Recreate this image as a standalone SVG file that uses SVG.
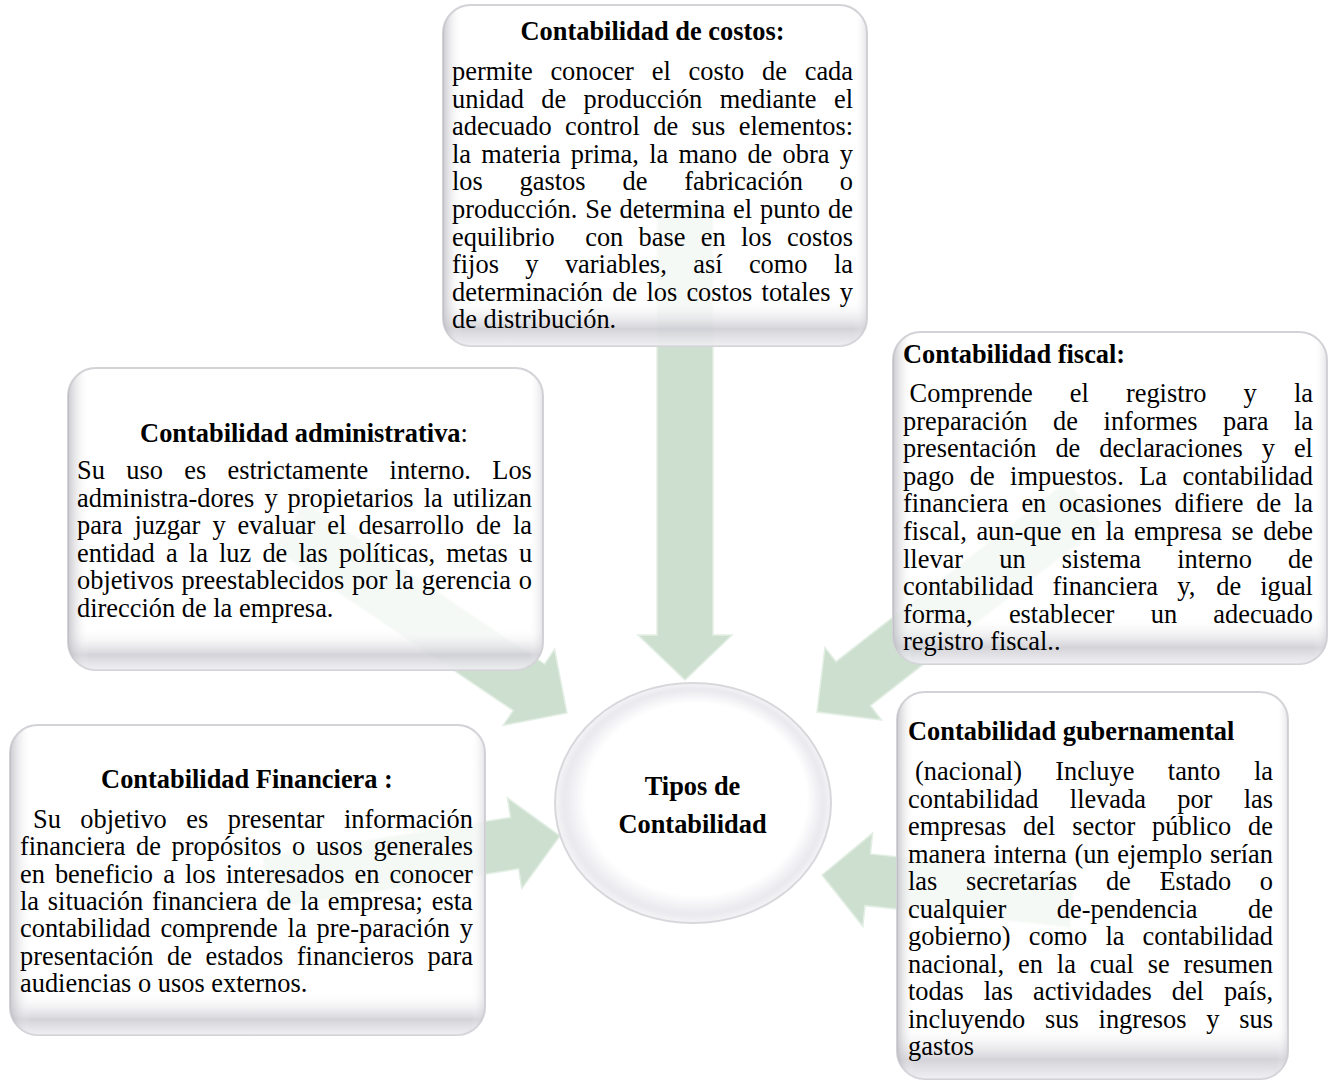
<svg xmlns="http://www.w3.org/2000/svg" width="1333" height="1084" viewBox="0 0 1333 1084">
<style>
.t{font-family:"Liberation Serif","Times New Roman",serif;font-size:26.4px;fill:#000}
.b{font-weight:bold}
.box{fill:#fff;fill-opacity:0.8;stroke:#d2d2d7;stroke-width:2}
.shB{fill:url(#gBottom);stroke:none}
.shL{fill:url(#gLeft);stroke:none}
.arrow{fill:#cde0cf;stroke:#e3eee4;stroke-width:1.5}
</style>
<defs>
<linearGradient id="gBottom" x1="0" y1="0" x2="0" y2="1">
<stop offset="0" stop-color="#fff" stop-opacity="0"/>
<stop offset="0.86" stop-color="#fff" stop-opacity="0"/>
<stop offset="0.95" stop-color="#c4c4cc" stop-opacity="0.75"/>
<stop offset="1" stop-color="#e6e6ea" stop-opacity="0.6"/>
</linearGradient>
<linearGradient id="gLeft" x1="0" y1="0" x2="1" y2="0">
<stop offset="0" stop-color="#b4b4bc" stop-opacity="0.7"/>
<stop offset="0.045" stop-color="#fff" stop-opacity="0"/>
<stop offset="0.97" stop-color="#fff" stop-opacity="0"/>
<stop offset="1" stop-color="#c8c8d0" stop-opacity="0.5"/>
</linearGradient>
<radialGradient id="gEll" cx="0.5" cy="0.5" r="0.5" fx="0.56" fy="0.42">
<stop offset="0" stop-color="#ffffff"/>
<stop offset="0.8" stop-color="#ffffff"/>
<stop offset="0.94" stop-color="#e9e9ee"/>
<stop offset="1" stop-color="#f5f5f7"/>
</radialGradient>
</defs>
<rect width="1333" height="1084" fill="#fff"/>

<g id="connectors">
<polygon class="arrow" points="-477,-28 -45,-28 -45,-47 0,0 -45,47 -45,28 -477,28" transform="translate(685,680) rotate(90)"/>
<polygon class="arrow" points="-335,-28 -46,-28 -46,-46 0,0 -46,46 -46,28 -335,28" transform="translate(567,713) rotate(34)"/>
<polygon class="arrow" points="-340,-28 -46,-28 -46,-46 0,0 -46,46 -46,28 -340,28" transform="translate(817,712) rotate(142)"/>
<polygon class="arrow" points="-297,-26 -46,-26 -46,-46 0,0 -46,46 -46,26 -297,26" transform="translate(560,836) rotate(-9)"/>
<polygon class="arrow" points="-252,-26 -46,-26 -46,-47 0,0 -46,47 -46,26 -252,26" transform="translate(822,875) rotate(186)"/>
</g>

<g id="costos">
<rect class="box" x="443" y="5" width="424" height="341" rx="28"/>
<rect class="shB" x="443" y="5" width="424" height="341" rx="28"/>
<rect class="shL" x="443" y="5" width="424" height="341" rx="28"/>
<text class="t b" x="652.5" y="40" text-anchor="middle">Contabilidad de costos:</text>
<text class="t" y="80"><tspan x="452">permite</tspan><tspan x="550.4">conocer</tspan><tspan x="651.7">el</tspan><tspan x="688.5">costo</tspan><tspan x="762">de</tspan><tspan x="804.7">cada</tspan></text>
<text class="t" y="107.6"><tspan x="452">unidad</tspan><tspan x="541.3">de</tspan><tspan x="583.6">producción</tspan><tspan x="719.8">mediante</tspan><tspan x="834">el</tspan></text>
<text class="t" y="135.2"><tspan x="452">adecuado</tspan><tspan x="565.1">control</tspan><tspan x="653.3">de</tspan><tspan x="691.6">sus</tspan><tspan x="738.7">elementos:</tspan></text>
<text class="t" y="162.8"><tspan x="452">la</tspan><tspan x="481.3">materia</tspan><tspan x="570.7">prima,</tspan><tspan x="649.2">la</tspan><tspan x="678.5">mano</tspan><tspan x="747.4">de</tspan><tspan x="782.6">obra</tspan><tspan x="839.8">y</tspan></text>
<text class="t" y="190.4"><tspan x="452">los</tspan><tspan x="519.6">gastos</tspan><tspan x="622.5">de</tspan><tspan x="684.2">fabricación</tspan><tspan x="839.8">o</tspan></text>
<text class="t" y="218"><tspan x="452">producción.</tspan><tspan x="585.3">Se</tspan><tspan x="619.6">determina</tspan><tspan x="733.1">el</tspan><tspan x="760.1">punto</tspan><tspan x="828.1">de</tspan></text>
<text class="t" y="245.6"><tspan x="452">equilibrio</tspan><tspan x="585.2">con</tspan><tspan x="638.6">base</tspan><tspan x="700.8">en</tspan><tspan x="741">los</tspan><tspan x="787.1">costos</tspan></text>
<text class="t" y="273.2"><tspan x="452">fijos</tspan><tspan x="525.3">y</tspan><tspan x="564.9">variables,</tspan><tspan x="693.2">así</tspan><tspan x="748.9">como</tspan><tspan x="833.9">la</tspan></text>
<text class="t" y="300.8"><tspan x="452">determinación</tspan><tspan x="612.3">de</tspan><tspan x="646.4">los</tspan><tspan x="686.4">costos</tspan><tspan x="761.6">totales</tspan><tspan x="839.8">y</tspan></text>
<text class="t" x="452" y="328.4">de distribución.</text>
</g>

<g id="administrativa">
<rect class="box" x="68" y="368" width="475" height="302" rx="28"/>
<rect class="shB" x="68" y="368" width="475" height="302" rx="28"/>
<rect class="shL" x="68" y="368" width="475" height="302" rx="28"/>
<text class="t" x="304" y="442" text-anchor="middle"><tspan class="b">Contabilidad administrativa</tspan>:</text>
<text class="t" y="479"><tspan x="77">Su</tspan><tspan x="126.2">uso</tspan><tspan x="184.2">es</tspan><tspan x="227.5">estrictamente</tspan><tspan x="389.6">interno.</tspan><tspan x="492.3">Los</tspan></text>
<text class="t" y="506.6"><tspan x="77">administra-dores</tspan><tspan x="264.4">y</tspan><tspan x="287.6">propietarios</tspan><tspan x="423.7">la</tspan><tspan x="452.8">utilizan</tspan></text>
<text class="t" y="534.2"><tspan x="77">para</tspan><tspan x="134.4">juzgar</tspan><tspan x="212.4">y</tspan><tspan x="237.6">evaluar</tspan><tspan x="327.3">el</tspan><tspan x="358.4">desarrollo</tspan><tspan x="476">de</tspan><tspan x="512.9">la</tspan></text>
<text class="t" y="561.8"><tspan x="77">entidad</tspan><tspan x="165.9">a</tspan><tspan x="188.8">la</tspan><tspan x="219">luz</tspan><tspan x="262.4">de</tspan><tspan x="298.5">las</tspan><tspan x="339">políticas,</tspan><tspan x="446.2">metas</tspan><tspan x="518.9">u</tspan></text>
<text class="t" y="589.4"><tspan x="77">objetivos</tspan><tspan x="181.5">preestablecidos</tspan><tspan x="352">por</tspan><tspan x="394.9">la</tspan><tspan x="421.7">gerencia</tspan><tspan x="518.8">o</tspan></text>
<text class="t" x="77" y="617">dirección de la empresa.</text>
</g>

<g id="fiscal">
<rect class="box" x="893" y="332" width="434" height="332" rx="28"/>
<rect class="shB" x="893" y="332" width="434" height="332" rx="28"/>
<rect class="shL" x="893" y="332" width="434" height="332" rx="28"/>
<text class="t b" x="903" y="363">Contabilidad fiscal:</text>
<text class="t" y="402"><tspan x="909.6">Comprende</tspan><tspan x="1069.8">el</tspan><tspan x="1125.9">registro</tspan><tspan x="1243.6">y</tspan><tspan x="1293.9">la</tspan></text>
<text class="t" y="429.6"><tspan x="903">preparación</tspan><tspan x="1053.1">de</tspan><tspan x="1103.6">informes</tspan><tspan x="1223">para</tspan><tspan x="1294">la</tspan></text>
<text class="t" y="457.2"><tspan x="903">presentación</tspan><tspan x="1055.4">de</tspan><tspan x="1099.2">declaraciones</tspan><tspan x="1261.8">y</tspan><tspan x="1293.9">el</tspan></text>
<text class="t" y="484.8"><tspan x="903">pago</tspan><tspan x="969.8">de</tspan><tspan x="1010.1">impuestos.</tspan><tspan x="1139.2">La</tspan><tspan x="1182.5">contabilidad</tspan></text>
<text class="t" y="512.4"><tspan x="903">financiera</tspan><tspan x="1021.4">en</tspan><tspan x="1059.1">ocasiones</tspan><tspan x="1174.5">difiere</tspan><tspan x="1256.2">de</tspan><tspan x="1293.9">la</tspan></text>
<text class="t" y="540"><tspan x="903">fiscal,</tspan><tspan x="976.4">aun-que</tspan><tspan x="1071">en</tspan><tspan x="1105.5">la</tspan><tspan x="1134.1">empresa</tspan><tspan x="1231.6">se</tspan><tspan x="1263.2">debe</tspan></text>
<text class="t" y="567.6"><tspan x="903">llevar</tspan><tspan x="999.3">un</tspan><tspan x="1061.8">sistema</tspan><tspan x="1177.2">interno</tspan><tspan x="1288.1">de</tspan></text>
<text class="t" y="595.2"><tspan x="903">contabilidad</tspan><tspan x="1052.6">financiera</tspan><tspan x="1177.3">y,</tspan><tspan x="1216.2">de</tspan><tspan x="1260.2">igual</tspan></text>
<text class="t" y="622.8"><tspan x="903">forma,</tspan><tspan x="1008.9">establecer</tspan><tspan x="1150.7">un</tspan><tspan x="1213.3">adecuado</tspan></text>
<text class="t" x="903" y="650.4">registro fiscal..</text>
</g>

<g id="financiera">
<rect class="box" x="10" y="725" width="475" height="310" rx="28"/>
<rect class="shB" x="10" y="725" width="475" height="310" rx="28"/>
<rect class="shL" x="10" y="725" width="475" height="310" rx="28"/>
<text class="t b" x="247" y="788" text-anchor="middle">Contabilidad Financiera :</text>
<text class="t" y="828"><tspan x="33">Su</tspan><tspan x="80.3">objetivo</tspan><tspan x="186.3">es</tspan><tspan x="227.7">presentar</tspan><tspan x="343.9">información</tspan></text>
<text class="t" y="855.3"><tspan x="20">financiera</tspan><tspan x="136.1">de</tspan><tspan x="171.6">propósitos</tspan><tspan x="292.1">o</tspan><tspan x="315.9">usos</tspan><tspan x="373.4">generales</tspan></text>
<text class="t" y="882.6"><tspan x="20">en</tspan><tspan x="54.9">beneficio</tspan><tspan x="163.2">a</tspan><tspan x="184.9">los</tspan><tspan x="225.7">interesados</tspan><tspan x="354.5">en</tspan><tspan x="389.4">conocer</tspan></text>
<text class="t" y="909.9"><tspan x="20">la</tspan><tspan x="47.8">situación</tspan><tspan x="151.9">financiera</tspan><tspan x="266.2">de</tspan><tspan x="299.9">la</tspan><tspan x="327.7">empresa;</tspan><tspan x="431.8">esta</tspan></text>
<text class="t" y="937.2"><tspan x="20">contabilidad</tspan><tspan x="160.4">comprende</tspan><tspan x="287.6">la</tspan><tspan x="316.5">pre-paración</tspan><tspan x="459.8">y</tspan></text>
<text class="t" y="964.5"><tspan x="20">presentación</tspan><tspan x="167">de</tspan><tspan x="205.5">estados</tspan><tspan x="296.8">financieros</tspan><tspan x="427.6">para</tspan></text>
<text class="t" x="20" y="991.8">audiencias o usos externos.</text>
</g>

<g id="gubernamental">
<rect class="box" x="897" y="692" width="391" height="387" rx="28"/>
<rect class="shB" x="897" y="692" width="391" height="387" rx="28"/>
<rect class="shL" x="897" y="692" width="391" height="387" rx="28"/>
<text class="t b" x="908" y="740">Contabilidad gubernamental</text>
<text class="t" y="780"><tspan x="915">(nacional)</tspan><tspan x="1055.3">Incluye</tspan><tspan x="1167.8">tanto</tspan><tspan x="1253.9">la</tspan></text>
<text class="t" y="807.5"><tspan x="908">contabilidad</tspan><tspan x="1069.8">llevada</tspan><tspan x="1177.2">por</tspan><tspan x="1243.7">las</tspan></text>
<text class="t" y="835"><tspan x="908">empresas</tspan><tspan x="1023.1">del</tspan><tspan x="1072.2">sector</tspan><tspan x="1152.1">público</tspan><tspan x="1248.1">de</tspan></text>
<text class="t" y="862.5"><tspan x="908">manera</tspan><tspan x="993.4">interna</tspan><tspan x="1074.4">(un</tspan><tspan x="1117.3">ejemplo</tspan><tspan x="1210">serían</tspan></text>
<text class="t" y="890"><tspan x="908">las</tspan><tspan x="965.9">secretarías</tspan><tspan x="1105.9">de</tspan><tspan x="1159.4">Estado</tspan><tspan x="1259.8">o</tspan></text>
<text class="t" y="917.5"><tspan x="908">cualquier</tspan><tspan x="1056.8">de-pendencia</tspan><tspan x="1248.1">de</tspan></text>
<text class="t" y="945"><tspan x="908">gobierno)</tspan><tspan x="1028.7">como</tspan><tspan x="1105.4">la</tspan><tspan x="1142.5">contabilidad</tspan></text>
<text class="t" y="972.5"><tspan x="908">nacional,</tspan><tspan x="1018">en</tspan><tspan x="1056.8">la</tspan><tspan x="1089.8">cual</tspan><tspan x="1147.7">se</tspan><tspan x="1183.6">resumen</tspan></text>
<text class="t" y="1000"><tspan x="908">todas</tspan><tspan x="983.7">las</tspan><tspan x="1033">actividades</tspan><tspan x="1171.7">del</tspan><tspan x="1223.9">país,</tspan></text>
<text class="t" y="1027.5"><tspan x="908">incluyendo</tspan><tspan x="1045.1">sus</tspan><tspan x="1098.6">ingresos</tspan><tspan x="1206.3">y</tspan><tspan x="1239.3">sus</tspan></text>
<text class="t" x="908" y="1055">gastos</text>
</g>

<g id="tipos">
<ellipse cx="693" cy="803" rx="138" ry="120" fill="url(#gEll)" stroke="#d8d8dc" stroke-width="2"/>
<text class="t b" x="692.5" y="795" text-anchor="middle">Tipos de</text>
<text class="t b" x="692.5" y="833" text-anchor="middle">Contabilidad</text>
</g>
</svg>
